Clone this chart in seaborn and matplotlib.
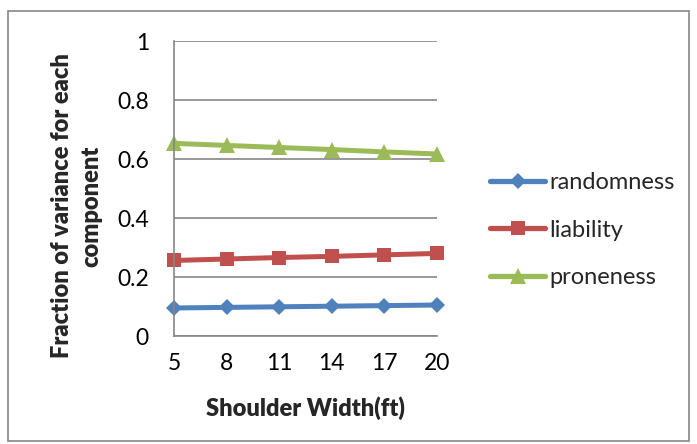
import matplotlib
matplotlib.use("Agg")
import matplotlib.pyplot as plt
import seaborn as sns
import pandas as pd
from matplotlib.patches import Rectangle
from matplotlib.lines import Line2D

widths = [5, 8, 11, 14, 17, 20]
randomness = [0.095, 0.097, 0.099, 0.101, 0.103, 0.105]
liability = [0.256, 0.261, 0.266, 0.270, 0.275, 0.280]
proneness = [0.653, 0.646, 0.639, 0.632, 0.624, 0.617]
series_names = ["randomness", "liability", "proneness"]
y_ticks = [0, 0.2, 0.4, 0.6, 0.8, 1]
y_tick_labels = ["0", "0.2", "0.4", "0.6", "0.8", "1"]

sns.set_theme(style="white")
plt.rcParams["font.family"] = ["Lato", "DejaVu Sans"]

df = pd.DataFrame({
    "width": widths * 3,
    "value": randomness + liability + proneness,
    "component": [n for n in series_names for _ in widths],
})

palette = {"randomness": "#4F81BD", "liability": "#C0504D", "proneness": "#9BBB59"}
markers = {"randomness": "D", "liability": "s", "proneness": "^"}
marker_sizes = {"D": 8.5, "s": 10.5, "^": 11.5}

W, H = 697, 444
fig = plt.figure(figsize=(W / 100, H / 100), dpi=100)
ax = fig.add_axes([174 / W, 1 - 336 / H, (437 - 174) / W, (336 - 41) / H])

sns.lineplot(data=df, x="width", y="value", hue="component", style="component",
             markers=markers, dashes=False, palette=palette, linewidth=3.6,
             markeredgewidth=0, ax=ax, legend=False)
for ln in ax.lines:
    m = ln.get_marker()
    if m in marker_sizes:
        ln.set_markersize(marker_sizes[m])
    ln.set_clip_on(False)

grid_c = "#868686"
ax.set_xlim(5, 20)
ax.set_ylim(0, 1)
ax.set_xticks(widths)
ax.set_xticklabels([str(w) for w in widths])
ax.set_yticks(y_ticks)
ax.set_yticklabels(y_tick_labels)
ax.yaxis.grid(True, color=grid_c, linewidth=1.2)
ax.set_axisbelow(True)
for s in ["top", "right"]:
    ax.spines[s].set_visible(False)
for s in ["left", "bottom"]:
    ax.spines[s].set_color(grid_c)
    ax.spines[s].set_linewidth(1.2)
ax.tick_params(axis="both", which="both", direction="out", length=6, width=1.2,
               color=grid_c, labelsize=16.5, labelcolor="#000000")
ax.tick_params(axis="x", pad=6)
ax.tick_params(axis="y", pad=12)
ax.set_xlabel("")
ax.set_ylabel("")

fig.text(305 / W, 1 - 408 / H, "Shoulder Width(ft)", fontsize=17,
         fontweight="heavy", ha="center", va="center")
fig.text(77 / W, 1 - 206 / H, "Fraction of variance for each\ncomponent",
         fontsize=17, fontweight="heavy", ha="center", va="center",
         rotation=90, multialignment="center", linespacing=1.4)

handles = [Line2D([0], [0], color=palette[n], marker=markers[n], linewidth=3.8,
                  markersize=marker_sizes[markers[n]], markeredgewidth=0)
           for n in series_names]
fig.legend(handles, series_names, loc="center left",
           bbox_to_anchor=(490 / W, 1 - 230 / H), frameon=False, fontsize=17,
           handlelength=2.35, handletextpad=0.15, labelspacing=1.12,
           borderpad=0, borderaxespad=0)

fig.patches.append(Rectangle((8 / W, 1 - 441 / H), (689 - 8) / W, (441 - 11) / H,
                             transform=fig.transFigure, fill=False,
                             edgecolor=grid_c, linewidth=1.2))

fig.savefig("out.png", dpi=100)
